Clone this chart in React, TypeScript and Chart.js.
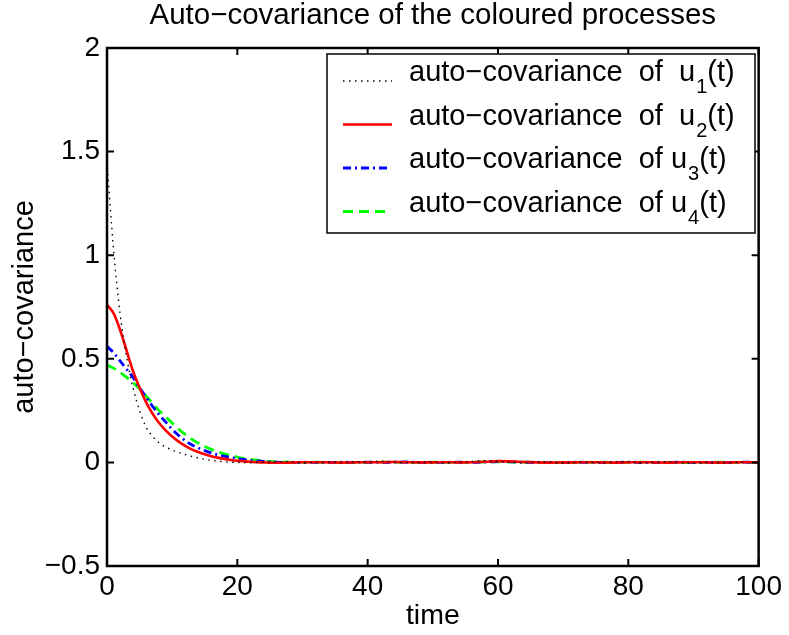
import { useEffect, useRef } from "react";
import { Chart, registerables } from "chart.js";

Chart.register(...registerables);

const FONT = '"Liberation Sans", Arial, Helvetica, sans-serif';

// Time lags (finer spacing over the decay, coarser over the flat tail)
const timeLags = [
  0, 1, 2, 3, 4, 5, 6, 7, 8, 9, 10, 11, 12, 13, 14, 15, 16, 17, 18, 19, 20,
  21, 22, 23, 24, 25, 26, 27, 28, 29, 30, 32, 34, 36, 38, 40, 42, 44, 46, 48,
  50, 52, 54, 56, 58, 60, 62, 64, 66, 68, 70, 72, 74, 76, 78, 80, 82, 84, 86,
  88, 90, 92, 94, 96, 98, 100,
];

const acovU1 = [
  1.45, 1.03, 0.72, 0.51, 0.36, 0.25, 0.17, 0.125, 0.095, 0.074, 0.06, 0.048,
  0.038, 0.029, 0.021, 0.015, 0.01, 0.006, 0.003, 0.001, 0.0, -0.001, -0.002,
  0.0, 0.001, -0.001, 0.002, 0.003, 0.004, 0.001, -0.002, 0.001, 0.002,
  -0.001, 0.003, 0.002, 0.006, 0.002, -0.001, 0.001, 0.003, -0.002, 0.001,
  0.004, 0.008, 0.005, 0.001, -0.002, 0.002, 0.001, -0.003, 0.0, 0.002,
  -0.001, 0.001, 0.002, -0.002, 0.001, 0.003, -0.001, -0.003, 0.001, -0.002,
  0.0, 0.001,
];

const acovU2 = [
  0.76, 0.72, 0.64, 0.54, 0.44, 0.36, 0.29, 0.235, 0.19, 0.155, 0.125, 0.1,
  0.08, 0.063, 0.05, 0.039, 0.03, 0.023, 0.017, 0.012, 0.008, 0.005, 0.003,
  0.001, 0.0, -0.001, -0.002, -0.002, -0.001, 0.0, 0.001, 0.001, 0.0, -0.001,
  0.0, 0.001, 0.001, 0.002, 0.001, 0.0, 0.0, 0.001, 0.0, 0.001, 0.003, 0.006,
  0.005, 0.002, 0.0, -0.001, 0.0, 0.0, 0.001, 0.0, -0.001, 0.0, 0.001, 0.0,
  -0.001, 0.0, 0.001, 0.0, -0.001, 0.0, 0.001, 0.0,
];

const acovU3 = [
  0.56, 0.53, 0.49, 0.45, 0.41, 0.36, 0.315, 0.27, 0.23, 0.195, 0.16, 0.13,
  0.105, 0.085, 0.07, 0.057, 0.046, 0.037, 0.03, 0.024, 0.019, 0.014, 0.01,
  0.007, 0.005, 0.003, 0.001, 0.0, -0.001, 0.0, 0.001, 0.0, -0.001, 0.001,
  0.0, 0.001, 0.0, 0.001, 0.002, 0.0, -0.001, 0.001, 0.001, 0.0, 0.002, 0.004,
  0.003, 0.001, 0.0, -0.001, 0.0, 0.001, 0.0, -0.001, 0.0, 0.001, 0.0, -0.001,
  0.0, 0.001, 0.0, -0.001, -0.001, 0.0, 0.001, 0.0,
];

const acovU4 = [
  0.47, 0.455, 0.435, 0.41, 0.385, 0.355, 0.32, 0.285, 0.25, 0.22, 0.19,
  0.16, 0.135, 0.112, 0.093, 0.077, 0.063, 0.051, 0.041, 0.033, 0.026, 0.02,
  0.015, 0.011, 0.008, 0.005, 0.003, 0.002, 0.001, 0.0, 0.0, 0.001, 0.0, 0.0,
  -0.001, 0.0, 0.001, 0.001, 0.0, 0.0, 0.001, 0.0, 0.0, 0.001, 0.002, 0.003,
  0.002, 0.001, 0.0, 0.0, -0.001, 0.0, 0.0, 0.001, 0.0, 0.0, 0.001, 0.0, 0.0,
  -0.001, 0.0, 0.0, 0.001, 0.0, 0.0, 0.0,
];

const seriesValues = [acovU1, acovU2, acovU3, acovU4];
const seriesColors = ["#000000", "#ff0000", "#0000ff", "#00ff00"];
const seriesWidths = [1.4, 2.6, 2.8, 2.8];
const seriesDashes = [[1.5, 4.5], [], [8, 4, 2, 4], [10, 6]];
const legendPrefixes = [
  "auto\u2212covariance  of  u",
  "auto\u2212covariance  of  u",
  "auto\u2212covariance  of u",
  "auto\u2212covariance  of u",
];
const legendSubscripts = ["1", "2", "3", "4"];
const legendSuffix = "(t)";

const chartTitle = "Auto\u2212covariance of the coloured processes";
const xAxisTitle = "time";
const yAxisTitle = "auto\u2212covariance";

// Matlab-style boxed frame with inward tick marks on all four sides
const framePlugin = {
  id: "frame",
  afterDatasetsDraw(chart: any) {
    const { ctx, chartArea: a, scales } = chart;
    ctx.save();
    ctx.strokeStyle = "#000";
    ctx.lineWidth = 2.5;
    ctx.strokeRect(a.left, a.top, a.right - a.left, a.bottom - a.top);
    ctx.lineWidth = 2;
    const len = 7;
    ctx.beginPath();
    scales.x.ticks.forEach((t: any) => {
      const px = scales.x.getPixelForValue(t.value);
      ctx.moveTo(px, a.bottom);
      ctx.lineTo(px, a.bottom - len);
      ctx.moveTo(px, a.top);
      ctx.lineTo(px, a.top + len);
    });
    scales.y.ticks.forEach((t: any) => {
      const py = scales.y.getPixelForValue(t.value);
      ctx.moveTo(a.left, py);
      ctx.lineTo(a.left + len, py);
      ctx.moveTo(a.right, py);
      ctx.lineTo(a.right - len, py);
    });
    ctx.stroke();
    ctx.restore();
  },
};

// Title and a legend box with subscripted labels
const overlayPlugin = {
  id: "overlay",
  afterDraw(chart: any) {
    const { ctx, chartArea: a } = chart;
    ctx.save();
    ctx.fillStyle = "#000";
    ctx.font = `29.5px ${FONT}`;
    ctx.textAlign = "center";
    ctx.textBaseline = "alphabetic";
    ctx.fillText(chartTitle, (a.left + a.right) / 2, 24);

    const boxL = 327;
    const boxT = 54;
    const boxR = 755;
    const boxB = 233;
    ctx.fillStyle = "#fff";
    ctx.fillRect(boxL, boxT, boxR - boxL, boxB - boxT);
    ctx.strokeStyle = "#000";
    ctx.lineWidth = 1.5;
    ctx.strokeRect(boxL, boxT, boxR - boxL, boxB - boxT);

    const rowH = 43.5;
    chart.data.datasets.forEach((ds: any, i: number) => {
      const y = 81 + i * rowH;
      ctx.save();
      ctx.strokeStyle = ds.borderColor;
      ctx.lineWidth = ds.borderWidth;
      ctx.setLineDash(ds.borderDash || []);
      ctx.beginPath();
      ctx.moveTo(343, y);
      ctx.lineTo(i >= 2 ? 388 : 392, y);
      ctx.stroke();
      ctx.restore();

      ctx.fillStyle = "#000";
      ctx.textAlign = "left";
      ctx.font = `29px ${FONT}`;
      let x = 409;
      ctx.fillText(legendPrefixes[i], x, y);
      x += ctx.measureText(legendPrefixes[i]).width + 1;
      ctx.font = `20px ${FONT}`;
      ctx.fillText(legendSubscripts[i], x, y + 12);
      x += ctx.measureText(legendSubscripts[i]).width;
      ctx.font = `29px ${FONT}`;
      ctx.fillText(legendSuffix, x, y);
    });
    ctx.restore();
  },
};

const fmtTick = (v: number) =>
  v < 0 ? "\u2212" + String(Math.abs(v)) : String(v);

export default function App() {
  const canvasRef = useRef<HTMLCanvasElement | null>(null);

  useEffect(() => {
    const canvas = canvasRef.current;
    if (!canvas) return;
    const chart = new Chart(canvas, {
      type: "line",
      data: {
        labels: timeLags,
        datasets: seriesValues.map((vals, i) => ({
          label: `auto\u2212covariance of u${legendSubscripts[i]}(t)`,
          data: vals.map((v, k) => ({ x: timeLags[k], y: v })),
          borderColor: seriesColors[i],
          backgroundColor: seriesColors[i],
          borderWidth: seriesWidths[i],
          borderDash: seriesDashes[i],
          pointRadius: 0,
          fill: false,
          cubicInterpolationMode: "monotone" as const,
        })),
      },
      options: {
        animation: false,
        responsive: false,
        events: [],
        layout: { padding: { top: 48, right: 24, left: 0, bottom: 0 } },
        plugins: {
          legend: { display: false },
          tooltip: { enabled: false },
          title: { display: false },
        },
        scales: {
          x: {
            type: "linear",
            min: 0,
            max: 100,
            grid: { display: false, drawTicks: false },
            border: { display: false },
            ticks: {
              stepSize: 20,
              padding: 7,
              color: "#000",
              font: { family: FONT, size: 28, lineHeight: 1 },
              maxRotation: 0,
            },
            title: {
              display: true,
              text: xAxisTitle,
              color: "#000",
              font: { family: FONT, size: 28.5, lineHeight: 1 },
              padding: { top: 0, bottom: 5 },
            },
            afterFit(scale: any) {
              scale.height = 69;
            },
          },
          y: {
            type: "linear",
            min: -0.5,
            max: 2,
            grid: { display: false, drawTicks: false },
            border: { display: false },
            ticks: {
              stepSize: 0.5,
              padding: 7,
              color: "#000",
              font: { family: FONT, size: 28, lineHeight: 1 },
              callback: (v: any) => fmtTick(Number(v)),
            },
            title: {
              display: true,
              text: yAxisTitle,
              color: "#000",
              font: { family: FONT, size: 29, lineHeight: 1 },
              padding: { top: 10, bottom: 0 },
            },
            afterFit(scale: any) {
              scale.width = 107;
            },
          },
        },
      },
      plugins: [framePlugin, overlayPlugin],
    });
    return () => chart.destroy();
  }, []);

  return (
    <div style={{ position: "absolute", left: 0, top: 0, width: 789, height: 635, background: "#fff" }}>
      <canvas ref={canvasRef} width={789} height={635} />
    </div>
  );
}
